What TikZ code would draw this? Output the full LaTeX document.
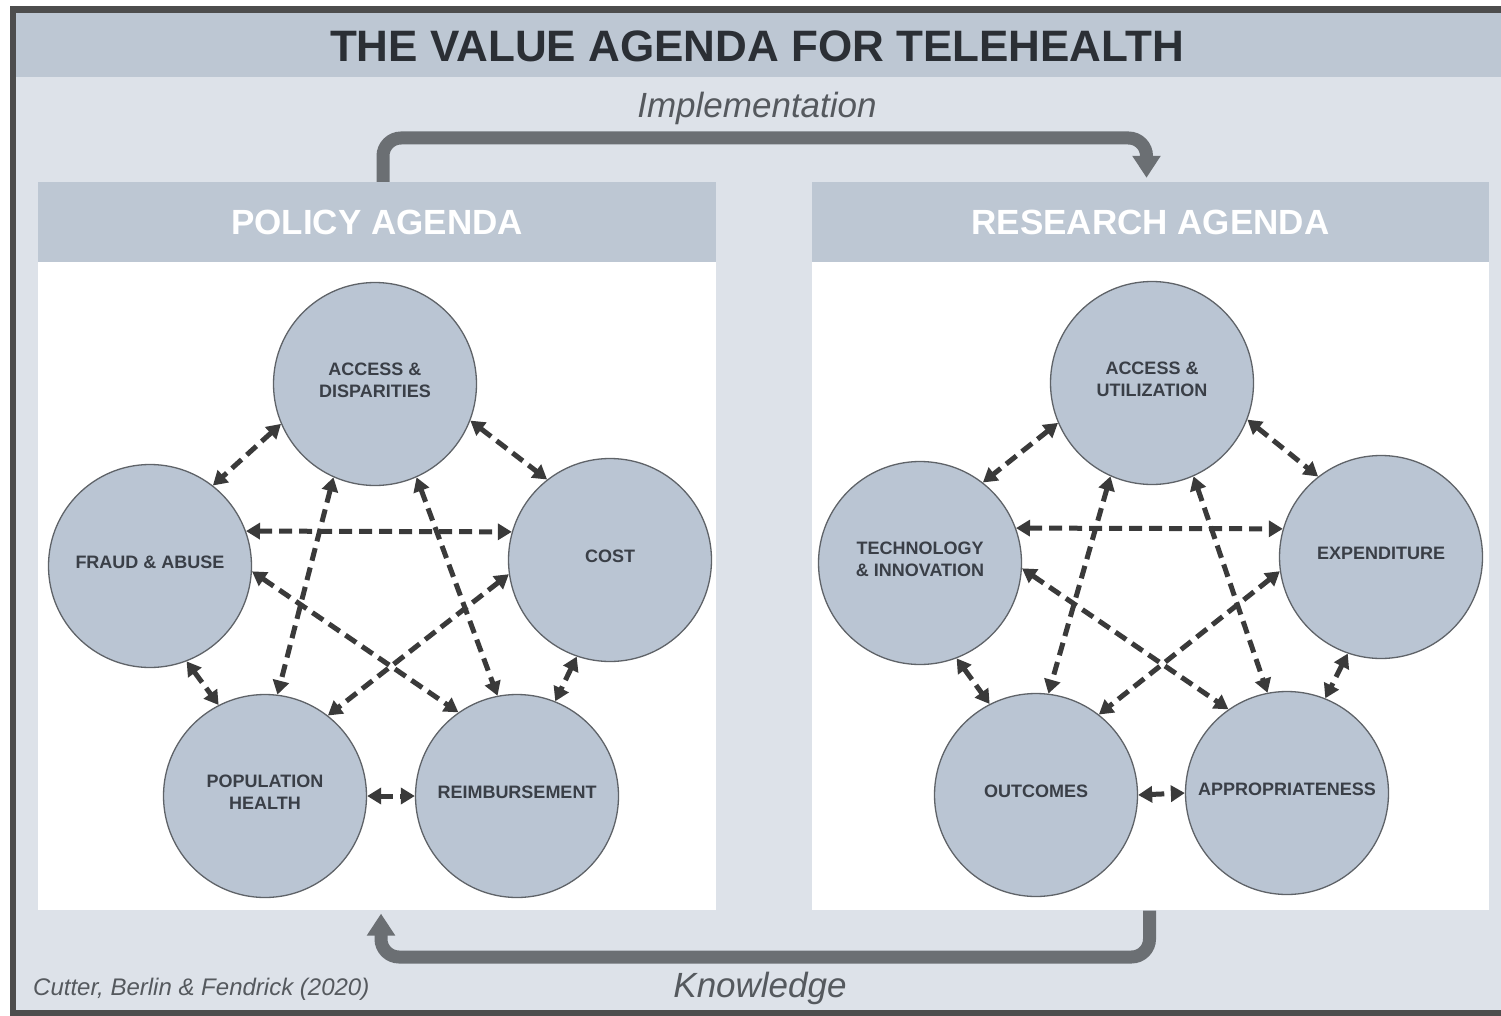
\documentclass[tikz,border=0pt]{standalone}
\usepackage{fontspec}
\setmainfont{Liberation Sans}
\usetikzlibrary{arrows.meta}
\definecolor{bandc}{HTML}{BDC7D3}
\definecolor{bgc}{HTML}{DDE2E9}
\definecolor{circfill}{HTML}{BAC5D3}
\definecolor{circdraw}{HTML}{5F6368}
\definecolor{dashc}{HTML}{3A3A3A}
\definecolor{bigc}{HTML}{6B6F73}
\definecolor{titlec}{HTML}{2B2F35}
\definecolor{framec}{HTML}{4D4D4D}
\definecolor{italc}{HTML}{55595E}
\definecolor{circtext}{HTML}{3A3F47}
\begin{document}
\begin{tikzpicture}[x=1pt,y=-1pt,
  titletext/.style={font=\fontsize{44}{50}\selectfont\bfseries, text=titlec, inner sep=0pt},
  panelhead/.style={rectangle, fill=bandc, inner sep=0pt, minimum width=678pt, minimum height=80pt,
    font=\fontsize{35}{40}\selectfont\bfseries, text=white},
  panelbody/.style={rectangle, fill=white, inner sep=0pt, minimum width=678pt, minimum height=648pt, anchor=north},
  circ/.style={circle, draw=circdraw, line width=1.3pt, fill=circfill, minimum size=203pt, inner sep=0pt,
    align=center, font=\fontsize{18}{22}\selectfont\bfseries, text=circtext, text depth=8pt},
  dconn/.style={draw=dashc, line width=5pt, dash pattern=on 13pt off 7pt,
    {Triangle[width=16pt,length=14pt]}-{Triangle[width=16pt,length=14pt]}},
  bigarr/.style={draw=bigc, line width=13pt, rounded corners=18pt, -{Triangle[width=27pt,length=22pt]}},
  italabel/.style={font=\fontsize{35}{40}\selectfont\itshape, text=italc, inner sep=0pt, anchor=base},
  citelabel/.style={font=\fontsize{24}{28}\selectfont\itshape, text=italc, inner sep=0pt, anchor=base west}
]
\useasboundingbox (0,0) rectangle (1501,1016);
\clip (0,0) rectangle (1501,1016);
\fill[white] (0,0) rectangle (1501,1016);
\fill[bgc] (13,9.5) rectangle (1510,1013);
\fill[bandc] (16,13) rectangle (1510,77);
\draw[framec, line width=6.5pt] (13,9.5) rectangle (1510,1013);

\node[titletext, anchor=base] (title) at (757,62) {THE VALUE AGENDA FOR TELEHEALTH};

% panels
\node[panelhead] (polhead) at (377,222) {POLICY AGENDA};
\node[panelbody] (polbody) at (polhead.south) {};
\node[panelhead, minimum width=677pt] (reshead) at (1150.5,222) {RESEARCH AGENDA};
\node[panelbody, minimum width=677pt] (resbody) at (reshead.south) {};

% big arrows
\coordinate (ihigh) at (760,138);
\coordinate (klow) at (760,957);
\draw[bigarr] ([xshift=6pt]polhead.north) |- (ihigh) -| ([xshift=-4pt,yshift=4pt]reshead.north);
\draw[bigarr] ([xshift=-1pt]resbody.south) |- (klow) -| ([xshift=4pt,yshift=-3pt]polbody.south);

\node[italabel] (impl) at (757,118) {Implementation};
\node[italabel] (know) at (760,997) {Knowledge};
\node[citelabel] (cite) at (33,995) {Cutter, Berlin \& Fendrick (2020)};

% policy circles
\node[circ] (ad) at (375,384) {ACCESS \&\\DISPARITIES};
\node[circ] (co) at (610,560) {COST};
\node[circ] (fr) at (150,566) {FRAUD \& ABUSE};
\node[circ] (ph) at (265,796) {POPULATION\\HEALTH};
\node[circ] (re) at (517,796) {REIMBURSEMENT};

\draw[dconn] (ad.-157) -- (fr.52);
\draw[dconn] (ad.-21) -- (co.128);
\draw[dconn] (fr.20) -- (co.164);
\draw[dconn] (fr.-69) -- (ph.117);
\draw[dconn] (co.-109) -- (re.68);
\draw[dconn] (ph.0) -- (re.180);
\draw[dconn] (ad.-114) -- (ph.83);
\draw[dconn] (ad.-66) -- (re.101);
\draw[dconn] (fr.-3) -- (re.125);
\draw[dconn] (co.-172) -- (ph.52);

% research circles
\node[circ] (au) at (1152,383) {ACCESS \&\\UTILIZATION};
\node[circ] (ex) at (1381,557) {EXPENDITURE};
\node[circ] (te) at (920,563) {TECHNOLOGY\\\& INNOVATION};
\node[circ] (ou) at (1036,795) {OUTCOMES};
\node[circ] (ap) at (1287,793) {APPROPRIATENESS};

\draw[dconn] (au.-157) -- (te.52);
\draw[dconn] (au.-21) -- (ex.128);
\draw[dconn] (te.20) -- (ex.164);
\draw[dconn] (te.-69) -- (ou.117);
\draw[dconn] (ex.-109) -- (ap.68);
\draw[dconn] (ou.0) -- (ap.180);
\draw[dconn] (au.-114) -- (ou.83);
\draw[dconn] (au.-66) -- (ap.101);
\draw[dconn] (te.-3) -- (ap.125);
\draw[dconn] (ex.-172) -- (ou.52);
\end{tikzpicture}
\end{document}
